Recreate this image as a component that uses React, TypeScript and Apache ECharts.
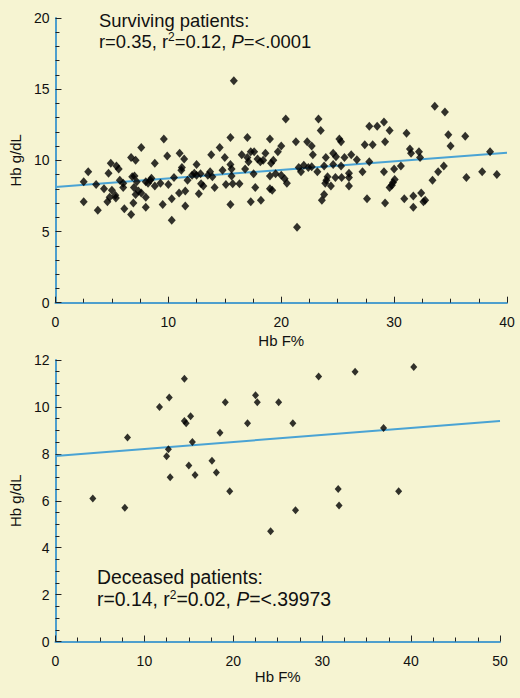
import React, { useEffect, useRef } from "react";
import * as echarts from "echarts";

// Surviving patients (Hb F %, Hb g/dL)
const survivingHbF = [
  2.5, 2.5, 2.9, 3.6, 3.75, 4.3, 4.6, 4.8, 4.7, 4.9, 5.0, 5.3, 5.35, 5.4, 5.6, 5.7, 6.0, 6.0, 6.1, 6.7,
  6.7, 6.9, 7.0, 6.8, 7.1, 6.95, 7.1, 7.2, 7.35, 7.6, 7.6, 8.0, 8.0, 8.0, 8.2, 8.4, 8.5, 8.8, 8.8, 9.3,
  9.5, 9.6, 9.9, 10.0, 10.3, 10.3, 10.5, 11.0, 10.95, 11.15, 11.2, 11.4, 11.5, 11.5, 11.7, 12.1, 12.3, 12.5, 12.5, 12.7,
  12.85, 12.9, 13.1, 13.5, 13.7, 13.8, 13.9, 14.1, 14.55, 14.8, 15.0, 15.1, 15.5, 15.5, 15.6, 15.6, 15.5, 15.7, 15.8, 16.3,
  16.5, 16.8, 17.0, 17.0, 17.1, 17.3, 17.3, 17.6, 17.55, 17.7, 17.9, 18.15, 18.2, 18.4, 18.6, 19.0, 19.0, 19.0, 19.2, 19.1,
  19.3, 19.5, 19.7, 20.0, 20.0, 20.3, 20.5, 20.4, 21.3, 21.4, 21.55, 21.75, 22.0, 22.3, 22.4, 22.7, 22.8, 22.7, 23.2, 23.3,
  23.5, 23.6, 23.8, 23.8, 23.95, 23.9, 24.0, 24.1, 24.4, 24.6, 24.8, 24.6, 24.85, 25.15, 25.3, 25.3, 25.35, 25.6, 26.0, 26.0,
  26.0, 26.2, 26.7, 27.2, 27.4, 27.6, 27.8, 27.8, 28.1, 28.5, 29.1, 29.2, 29.1, 29.2, 29.6, 29.6, 29.8, 29.9, 30.0, 30.05,
  30.6, 30.9, 31.1, 31.4, 31.5, 31.7, 31.7, 32.2, 32.3, 32.4, 32.6, 32.75, 33.4, 33.6, 33.9, 34.4, 34.5, 34.8, 35.0, 36.3,
  36.4, 37.8, 38.5, 39.1,
];
const survivingHb = [
  8.5, 7.1, 9.2, 8.3, 6.5, 8.0, 7.1, 7.4, 9.1, 9.8, 7.9, 7.55, 7.35, 9.6, 9.4, 8.6, 8.4, 8.1, 6.6, 10.2,
  6.2, 7.0, 8.9, 8.85, 10.0, 8.1, 7.6, 8.5, 7.85, 10.9, 7.7, 7.4, 6.7, 8.5, 8.4, 8.6, 8.75, 9.8, 8.2, 8.4,
  6.9, 11.5, 10.3, 8.3, 5.8, 7.3, 8.8, 10.5, 7.7, 9.3, 9.5, 10.1, 6.8, 7.85, 8.6, 8.95, 9.1, 9.7, 8.95, 7.65,
  9.05, 8.35, 8.2, 8.95, 9.2, 10.4, 8.85, 8.1, 10.9, 9.3, 10.2, 8.3, 11.6, 9.7, 9.4, 8.9, 6.9, 8.35, 15.6, 8.35,
  10.4, 9.4, 10.2, 11.6, 9.9, 7.1, 10.6, 10.6, 9.05, 8.1, 10.1, 9.9, 7.2, 10.0, 10.5, 11.5, 8.9, 8.0, 7.9, 9.8,
  10.0, 9.05, 10.6, 11.0, 8.95, 8.7, 8.4, 12.9, 11.3, 5.3, 9.5, 9.2, 9.65, 11.3, 9.5, 11.0, 10.4, 9.55, 9.2, 12.9,
  12.1, 7.2, 7.6, 9.6, 10.2, 8.4, 8.6, 8.85, 8.2, 10.5, 8.8, 9.7, 10.25, 11.5, 11.3, 9.6, 8.8, 10.2, 9.1, 8.8,
  8.2, 10.4, 10.05, 9.2, 11.1, 7.3, 12.4, 9.9, 11.1, 12.4, 12.7, 11.3, 9.2, 7.0, 12.1, 8.1, 8.25, 8.45, 9.4, 8.65,
  9.6, 7.3, 11.9, 10.8, 10.5, 7.5, 6.7, 10.6, 10.2, 7.7, 7.1, 7.2, 8.6, 13.8, 9.2, 9.6, 13.4, 11.8, 11.0, 11.7,
  8.8, 9.2, 10.6, 9.0,
];
const survivingFitHbF = [0, 40];
const survivingFitHb = [8.13, 10.54];

// Deceased patients (Hb F %, Hb g/dL)
const deceasedHbF = [
  4.2, 7.8, 8.1, 11.7, 12.5, 12.7, 12.8, 12.9, 14.5, 14.5, 14.7, 15.0, 15.2, 15.4, 15.7, 17.6, 18.1, 18.5, 19.1, 19.6,
  21.6, 22.5, 22.7, 24.2, 25.1, 26.7, 27.0, 29.6, 31.8, 31.9, 33.7, 36.9, 38.6, 40.3,
];
const deceasedHb = [
  6.1, 5.7, 8.7, 10.0, 7.9, 8.2, 10.4, 7.0, 11.2, 9.4, 9.3, 7.5, 9.6, 8.5, 7.1, 7.7, 7.2, 8.9, 10.2, 6.4,
  9.3, 10.5, 10.2, 4.7, 10.2, 9.3, 5.6, 11.3, 6.5, 5.8, 11.5, 9.1, 6.4, 11.7,
];
const deceasedFitHbF = [0, 50];
const deceasedFitHb = [7.91, 9.4];

// Axis ranges / tick steps
const topXAxis = { min: 0, max: 40, interval: 10 };
const topYAxis = { min: 0, max: 20, interval: 5 };
const bottomXAxis = { min: 0, max: 50, interval: 10 };
const bottomYAxis = { min: 0, max: 12, interval: 2 };

const xName = "Hb F%";
const yName = "Hb g/dL";
const topTitle = ["Surviving patients:", "r=0.35, r{sup|2}=0.12, {it|P}=<.0001"];
const bottomTitle = ["Deceased patients:", "r=0.14, r{sup|2}=0.02, {it|P}=<.39973"];

const FONT = "'Liberation Sans', Arial, Helvetica, sans-serif";
const BG = "#f6f4d2";
const AXIS_BLUE = "#4e9fcd";
const FIT_BLUE = "#4aa3d4";

const zip = (xs: number[], ys: number[]) => xs.map((x, i) => [x, ys[i]]);

function axisCommon(minorSplit: number) {
  return {
    axisLine: { show: true, onZero: false, lineStyle: { color: AXIS_BLUE, width: 2 } },
    axisTick: { show: true, inside: true, length: 6, lineStyle: { color: "#222", width: 1 } },
    minorTick: { show: true, splitNumber: minorSplit, length: 4, lineStyle: { color: "#222", width: 1 } },
    splitLine: { show: false },
    minorSplitLine: { show: false },
    axisLabel: { color: "#111", fontSize: 14, fontFamily: FONT, showMinLabel: true, showMaxLabel: true },
    nameTextStyle: { color: "#111", fontSize: 15, fontFamily: FONT },
    name: "",
    nameLocation: "middle" as const,
  };
}

function rich(size: number) {
  return {
    sup: { fontSize: 12, lineHeight: 14, verticalAlign: "top" as const, fontFamily: FONT, color: "#111" },
    it: { fontSize: size, fontStyle: "italic" as const, fontFamily: FONT, color: "#111", lineHeight: 20 },
  };
}

function titleText(text: string, left: number, top: number, size: number) {
  return {
    text,
    left,
    top,
    padding: 0,
    textStyle: { fontSize: size, lineHeight: 20, fontWeight: "normal", color: "#111", fontFamily: FONT, rich: rich(size) },
  };
}

export default function App() {
  const ref = useRef<HTMLDivElement>(null);
  useEffect(() => {
    if (!ref.current) return;
    const chart = echarts.init(ref.current, undefined, { renderer: "svg" });
    const topX = axisCommon(4);
    const topY = axisCommon(5);
    const botX = axisCommon(4);
    const botY = axisCommon(4);
    chart.setOption({
      animation: false,
      backgroundColor: BG,
      title: [
        titleText(topTitle[0], 99, 10.5, 18.4),
        titleText(topTitle[1], 99, 31, 18.4),
        titleText(bottomTitle[0], 97, 567, 19.4),
        titleText(bottomTitle[1], 97, 589, 19.4),
      ],
      grid: [
        { left: 45, top: 18, width: 462, height: 284.7 },
        { left: 45, top: 360, width: 455, height: 281.5 },
      ],
      xAxis: [
        {
          ...topX,
          type: "value",
          gridIndex: 0,
          ...topXAxis,
          name: xName,
          nameGap: 30,
          axisLabel: { ...topX.axisLabel, margin: 12 },
        },
        {
          ...botX,
          type: "value",
          gridIndex: 1,
          ...bottomXAxis,
          name: xName,
          nameGap: 27,
          axisLabel: { ...botX.axisLabel, margin: 12 },
        },
      ],
      yAxis: [
        {
          ...topY,
          type: "value",
          gridIndex: 0,
          ...topYAxis,
          name: yName,
          nameGap: 18,
          axisLabel: { ...topY.axisLabel, margin: 6 },
        },
        {
          ...botY,
          type: "value",
          gridIndex: 1,
          ...bottomYAxis,
          name: yName,
          nameGap: 18,
          axisLabel: { ...botY.axisLabel, margin: 6 },
        },
      ],
      series: [
        {
          type: "line",
          xAxisIndex: 0,
          yAxisIndex: 0,
          data: zip(survivingFitHbF, survivingFitHb),
          symbol: "none",
          lineStyle: { color: FIT_BLUE, width: 2 },
          z: 1,
          silent: true,
        },
        {
          type: "scatter",
          xAxisIndex: 0,
          yAxisIndex: 0,
          data: zip(survivingHbF, survivingHb),
          symbol: "diamond",
          symbolSize: [8, 9],
          itemStyle: { color: "#000" },
          z: 3,
        },
        {
          type: "line",
          xAxisIndex: 1,
          yAxisIndex: 1,
          data: zip(deceasedFitHbF, deceasedFitHb),
          symbol: "none",
          lineStyle: { color: FIT_BLUE, width: 2 },
          z: 1,
          silent: true,
        },
        {
          type: "scatter",
          xAxisIndex: 1,
          yAxisIndex: 1,
          data: zip(deceasedHbF, deceasedHb),
          symbol: "diamond",
          symbolSize: [7, 8],
          itemStyle: { color: "#000" },
          z: 3,
        },
      ],
    });
    return () => chart.dispose();
  }, []);
  return (
    <div
      ref={ref}
      style={{ position: "fixed", left: 0, top: 0, width: 520, height: 698, background: BG }}
    />
  );
}
